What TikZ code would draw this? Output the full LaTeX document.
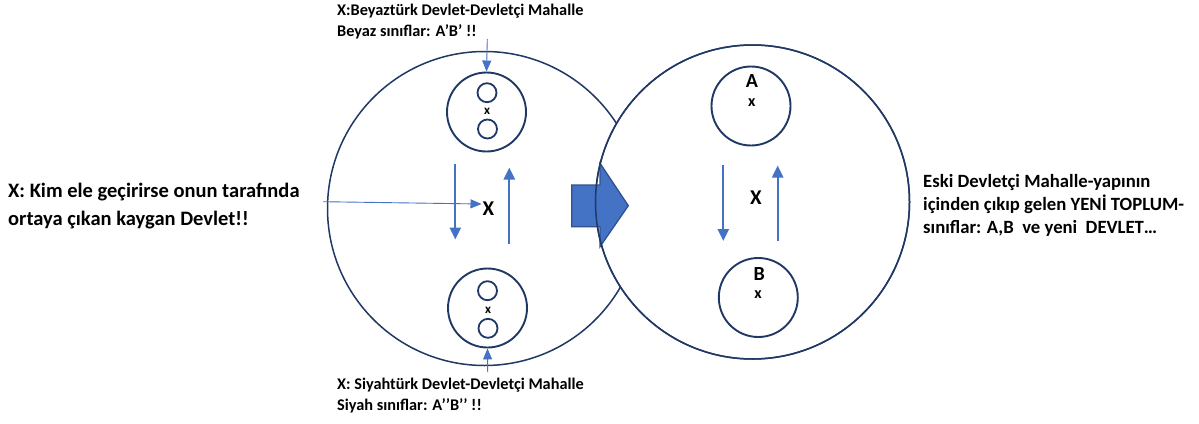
\documentclass[tikz,border=0pt]{standalone}
\usepackage{fontspec}
\setmainfont{Carlito}
\usetikzlibrary{arrows.meta}
\usetikzlibrary{positioning}
\definecolor{mnavy}{HTML}{203864}
\definecolor{mblue}{HTML}{4472C4}
\definecolor{mborder}{HTML}{2F528F}
\tikzset{bigc/.style = {draw = mnavy, line width = 1.5, circle, fill = white, inner sep = 0, minimum size = 314}}
\tikzset{smallc/.style = {draw = mnavy, line width = 1.9, circle, inner sep = 0, minimum size = 79}}
\tikzset{tinyc/.style = {draw = mnavy, line width = 1.8, circle, inner sep = 0, minimum size = 19}}
\tikzset{vec/.style = {mblue, line width = 2.2, -{Triangle[width = 11, length = 12]}}}
\tikzset{thinvec/.style = {mblue, line width = 0.9, -{Triangle[width = 9, length = 11]}}}
\tikzset{note/.style = {align = left, inner sep = 0, anchor = base west, font = \bfseries\fontsize{16.3}{21}\selectfont}}

\begin{document}
\begin{tikzpicture}[x = 1pt, y = -1pt]
    \useasboundingbox (0, 0) rectangle (1199, 423);

    % the two big circles
    \node [bigc] (oldc) at (484.5, 208.5) {};
    \node [bigc] (newc) at (752.5, 202) {};

    % left circle: the two quarters
    \node [smallc] (wq) at (486.5, 112) {};
    \node [tinyc] (wqa) at (487, 92.7) {};
    \node [tinyc] (wqb) at (487.5, 129) {};
    \node [font = \bfseries\fontsize{13}{13}\selectfont, inner sep = 0] (wqx) at (487, 111.5) {x};

    \node [smallc] (bq) at (487.5, 308) {};
    \node [tinyc] (bqa) at (487.5, 290.7) {};
    \node [tinyc] (bqb) at (488, 328.3) {};
    \node [font = \bfseries\fontsize{13}{13}\selectfont, inner sep = 0] (bqx) at (488, 310.5) {x};

    \node [font = \bfseries\fontsize{21}{21}\selectfont, inner sep = 1] (lx) at (488.5, 209) {X};

    \coordinate (ld1) at (455.3, 164);
    \coordinate (ld2) at (455.3, 239.5);
    \coordinate (lu1) at (509.3, 243.5);
    \coordinate (lu2) at (509.3, 167.5);
    \draw [vec] (ld1) -- (ld2);
    \draw [vec] (lu1) -- (lu2);

    % block arrow
    \draw [fill = mblue, draw = mborder, line width = 1.3, line join = miter]
        (571.7, 185) -- (600, 185) -- (600, 163.3) -- (628.3, 205.7)
        -- (600, 246.7) -- (600, 226.7) -- (571.7, 226.7) -- cycle;
    \draw [mnavy, line width = 1.5] (newc.center) circle (157);

    % right circle: the new society
    \node [smallc] (ca) at (751, 106) {};
    \node [font = \bfseries\fontsize{20}{20}\selectfont, inner sep = 0] (cal) at (752, 81) {A};
    \node [font = \bfseries\fontsize{16}{16}\selectfont, inner sep = 0] (cax) at (751.7, 103) {x};

    \node [smallc] (cb) at (758.3, 297.5) {};
    \node [font = \bfseries\fontsize{20}{20}\selectfont, inner sep = 0] (cbl) at (759.3, 274) {B};
    \node [font = \bfseries\fontsize{16}{16}\selectfont, inner sep = 0] (cbx) at (758, 294.5) {x};

    \node [font = \bfseries\fontsize{21}{21}\selectfont, inner sep = 1] (rx) at (756, 197.5) {X};

    \coordinate (rd1) at (723.3, 165);
    \coordinate (rd2) at (723.3, 241);
    \coordinate (ru1) at (777.7, 241);
    \coordinate (ru2) at (777.7, 165.5);
    \draw [vec] (rd1) -- (rd2);
    \draw [vec] (ru1) -- (ru2);

    % notes
    \node [note] (wnote) at (337, 36) {X:Beyaztürk Devlet-Devletçi Mahalle\\Beyaz sınıflar: A’B’ !!};
    \node [note] (bnote) at (337, 410) {X: Siyahtürk Devlet-Devletçi Mahalle\\Siyah sınıflar: A’’B’’ !!};
    \node [note, font = \bfseries\fontsize{20.5}{28}\selectfont] (knote) at (8, 225) {X: Kim ele geçirirse onun tarafında\\ortaya çıkan kaygan Devlet!!};
    \node [note, font = \bfseries\fontsize{18.7}{23}\selectfont] (enote) at (923, 233) {Eski Devletçi Mahalle-yapının\\içinden çıkıp gelen YENİ TOPLUM-\\sınıflar: A,B\ \ ve yeni\ \ DEVLET…};

    \coordinate (wtip) at (487.3, 39);
    \coordinate (btip) at (487.7, 372);
    \coordinate (kstart) at (323, 201.7);
    \draw [thinvec] (wtip) -- (wq.north);
    \draw [thinvec] (btip) -- (bq.south);
    \draw [thinvec] (kstart) -- (lx.west |- 0, 204);
\end{tikzpicture}
\end{document}
